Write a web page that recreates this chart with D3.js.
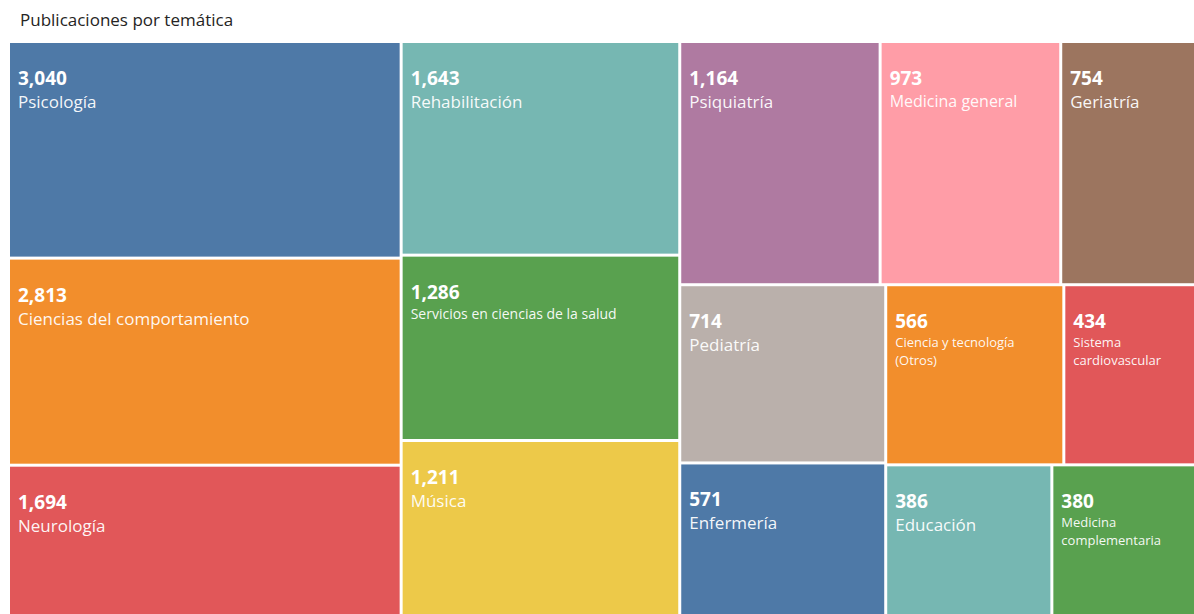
<!DOCTYPE html>
<html lang="es">
<head>
<meta charset="utf-8">
<script src="https://cdn.jsdelivr.net/npm/d3@7"></script>
<style>
  html, body { margin: 0; padding: 0; background: #ffffff; }
  svg { display: block; font-family: "Open Sans", "Noto Sans", "DejaVu Sans", sans-serif; }
</style>
</head>
<body>
<svg id="chart" width="1194" height="614"></svg>
<script>
// ---- Data ----
const title = "Publicaciones por temática";
const categories = [
  "Psicología",
  "Ciencias del comportamiento",
  "Neurología",
  "Rehabilitación",
  "Servicios en ciencias de la salud",
  "Música",
  "Psiquiatría",
  "Medicina general",
  "Geriatría",
  "Pediatría",
  "Enfermería",
  "Ciencia y tecnología (Otros)",
  "Sistema cardiovascular",
  "Educación",
  "Medicina complementaria"
];
const values = [3040, 2813, 1694, 1643, 1286, 1211, 1164, 973, 754, 714, 571, 566, 434, 386, 380];
// nesting of the tiles (indices into categories), alternated dice / slice by depth
const layoutPlan = [[0, 1, 2], [3, 4, 5], [[6, 7, 8], [[9, 10], [[11, 12], [13, 14]]]]];

// ---- Layout ----
const svg = d3.select("#chart");
const box = { x0: 10, y0: 43, x1: 1215, y1: 618 };

const sizeScale = d3.scalePow().exponent(0.58);
const color = d3.scaleOrdinal(d3.schemeTableau10).domain(categories);
const fmt = d3.format(",");

function build(node) {
  if (typeof node === "number") return { name: categories[node], value: values[node], idx: node };
  return { children: node.map(build) };
}

const root = d3.hierarchy(build(layoutPlan))
  .sum(d => d.children ? 0 : sizeScale(d.value));

d3.treemap()
  .tile(d3.treemapSliceDice)
  .size([box.x1 - box.x0, box.y1 - box.y0])
  .paddingInner(3)
  .round(false)(root);

svg.append("text")
  .attr("x", 20).attr("y", 26)
  .attr("font-size", 17)
  .attr("fill", "#252423")
  .text(title);

const g = svg.append("g").attr("transform", `translate(${box.x0},${box.y0})`);

const leaves = g.selectAll("g.leaf")
  .data(root.leaves())
  .join("g")
  .attr("class", "leaf")
  .attr("transform", d => `translate(${d.x0},${d.y0})`);

leaves.append("rect")
  .attr("width", d => d.x1 - d.x0)
  .attr("height", d => d.y1 - d.y0)
  .attr("fill", d => color(d.data.name));

leaves.append("text")
  .attr("x", 8).attr("y", 42)
  .attr("font-size", 19)
  .attr("font-weight", 700)
  .attr("fill", "#ffffff")
  .text(d => fmt(d.data.value));

leaves.each(function(d) {
  const w = Math.min(d.x1, 1194 - box.x0) - d.x0;
  const h = Math.min(d.y1, 614 - box.y0) - d.y0;
  const avail = w - 16;
  const sel = d3.select(this);
  const t = sel.append("text")
    .attr("x", 8)
    .attr("fill", "#ffffff")
    .attr("fill-opacity", 0.95);
  const maxSize = Math.min(17, Math.floor(h / 8));
  let size = null;
  for (let s = maxSize; s >= 13; s--) {
    t.attr("font-size", s).text(d.data.name);
    if (t.node().getComputedTextLength() <= avail * 0.82) { size = s; break; }
  }
  if (size !== null) {
    t.attr("y", 42 + size + 6);
    return;
  }
  size = 13;
  t.text(null).attr("font-size", size);
  const words = d.data.name.split(" ");
  let lines = [];
  let cur = "";
  const probe = t.append("tspan");
  words.forEach(wd => {
    const test = cur ? cur + " " + wd : wd;
    probe.text(test);
    if (probe.node().getComputedTextLength() > avail && cur) {
      lines.push(cur);
      cur = wd;
    } else {
      cur = test;
    }
  });
  if (cur) lines.push(cur);
  probe.remove();
  lines.forEach((ln, i) => {
    t.append("tspan")
      .attr("x", 8)
      .attr("y", 42 + size + 6 + i * 18)
      .text(ln);
  });
});
</script>
</body>
</html>
